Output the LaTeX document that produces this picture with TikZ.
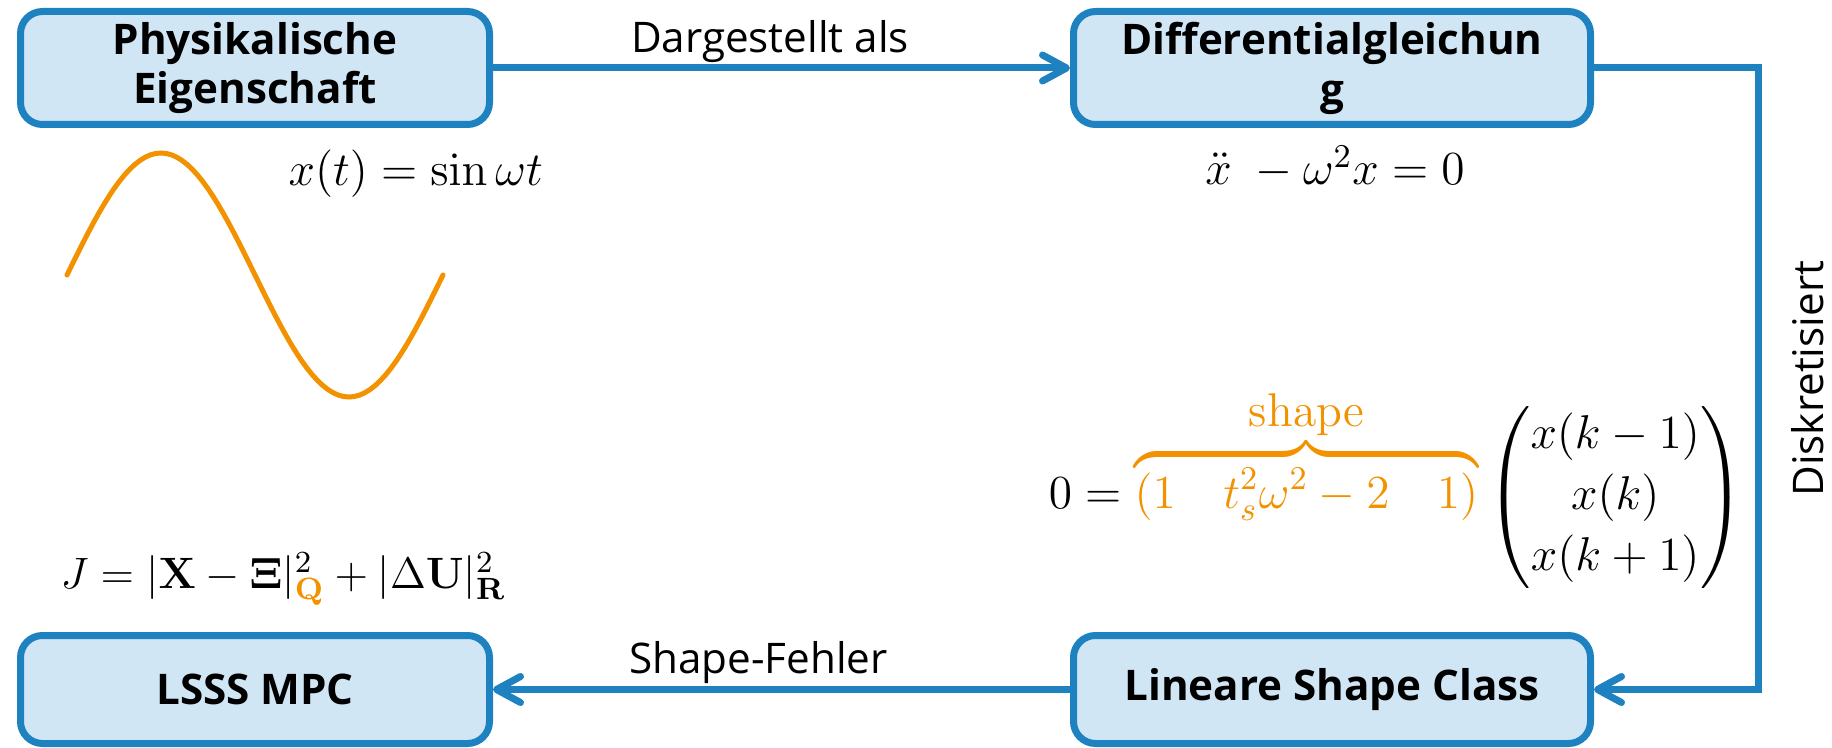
\RequirePackage{fix-cm}
\documentclass[tikz,border=0pt]{standalone}
\usepackage{amsmath}
\usepackage[no-math]{fontspec}
\setsansfont{Open Sans}
\usepackage{xcolor}
\usepackage{tikz}
\usetikzlibrary{arrows.meta,calc}

\definecolor{fhblue}{HTML}{1F82C0}
\definecolor{fhfill}{HTML}{D0E6F5}
\definecolor{fhorange}{HTML}{F39200}

\begin{document}
\begin{tikzpicture}[
    box/.style={draw=fhblue, fill=fhfill, line width=0.7mm,
                rounded corners=2.2mm, align=center, inner sep=0pt,
                font=\sffamily\bfseries\fontsize{12}{14.2}\selectfont},
    eq/.style={inner sep=0pt, font=\fontsize{13.5}{16}\selectfont},
    lbl/.style={inner sep=0.6pt, text=black,
                font=\sffamily\fontsize{12}{14}\selectfont},
    arrow/.style={-{Straight Barb[length=2.4mm, width=2.6mm, round]},
                  line width=0.7mm, fhblue},
    sine/.style={line width=0.5mm, fhorange, line cap=round},
  ]
  \useasboundingbox (0, 0) rectangle (18.32, 7.47);

  % Row 0: property and differential equation
  \node[box, minimum width=4.69cm, minimum height=1.13cm] at (2.55, 6.79) (phys)
    {Physikalische\\Eigenschaft};
  \node[box, minimum width=5.17cm, minimum height=1.13cm] at (13.32, 6.79) (dgl)
    {Differentialgleichun\\g};

  % Row 1: signal and its equation
  \draw[sine] plot[domain=0:360, samples=73]
    ({0.67 + \x/360*3.76}, {4.72 + 1.22*sin(\x)});
  \node[eq, anchor=base west] at (2.88, 5.61) (xt) {$x(t) = \sin\omega t$};
  \node[eq] at (13.35, 5.80) (xdd) {$\ddot{x}\;-\omega^2 x = 0$};

  % Row 2: discretised shape
  \node[eq, anchor=base east] at (17.45, 2.38) (shapeeq)
    {\renewcommand{\arraystretch}{1.08}%
     $\displaystyle 0 = {\color{fhorange}\overbrace{(1\quad t_s^2\omega^2-2\quad 1)}^{\displaystyle\text{shape}}}
      \begin{pmatrix} x(k-1)\\ x(k)\\ x(k+1) \end{pmatrix}$};

  % Row 3: cost function and bottom boxes
  \node[eq, anchor=base west, font=\fontsize{12.5}{15}\selectfont] at (0.60, 1.59) (cost)
    {$J = |\mathbf{X}-\mathbf{\Xi}|^2_{\color{fhorange}\mathbf{Q}}
      + |\Delta\mathbf{U}|^2_{\mathbf{R}}$};
  \node[box, minimum width=4.69cm, minimum height=1.08cm] at (2.55, 0.575) (mpc)
    {LSSS MPC};
  \node[box, minimum width=5.17cm, minimum height=1.08cm] at (13.32, 0.575) (lsc)
    {Lineare Shape Class};

  % Arrows
  \coordinate (turn) at (17.58, 6.79);
  \draw[arrow] (phys) -- node[lbl, pos=0.48, above] {Dargestellt als} (dgl);
  \draw[arrow] (dgl.east) -- (turn) |-
    node[lbl, pos=0.25, rotate=90, anchor=north, inner sep=3mm] {Diskretisiert}
    (lsc.east);
  \draw[arrow] (lsc) -- node[lbl, pos=0.54, above] {Shape-Fehler} (mpc);

\end{tikzpicture}
\end{document}
